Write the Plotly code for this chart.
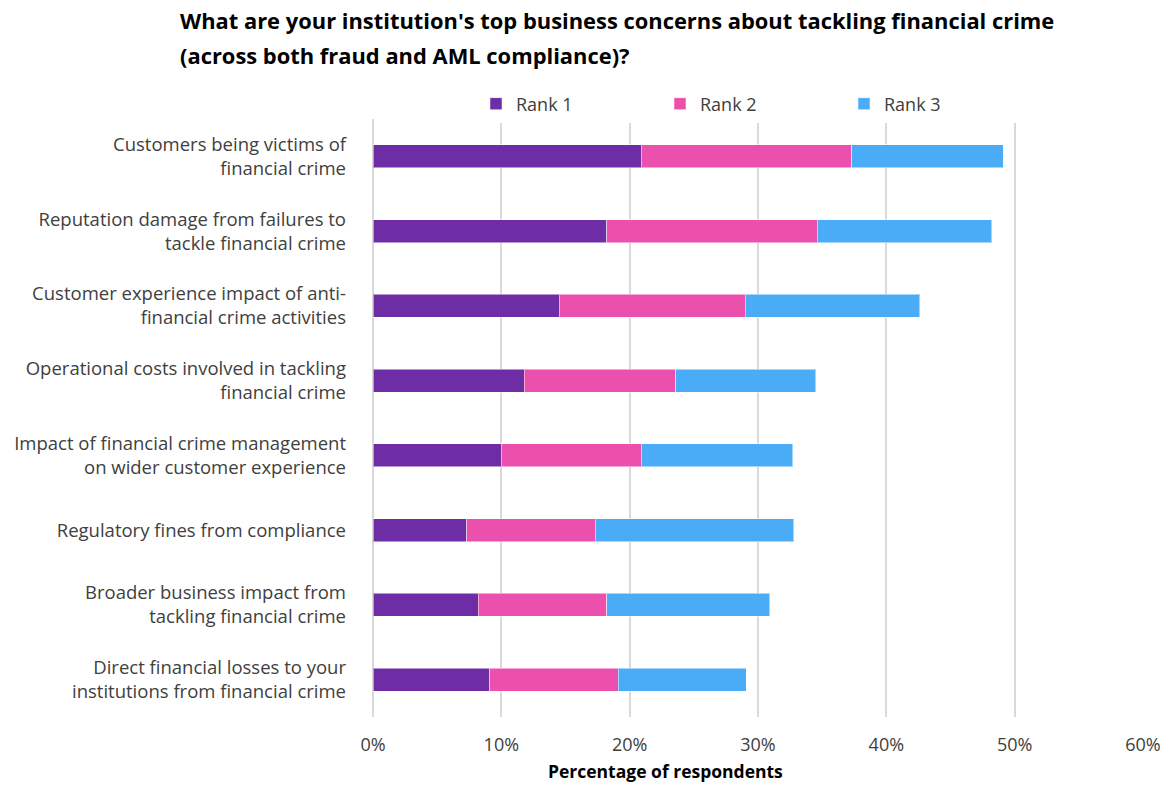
import plotly.graph_objects as go

categories = [
    "Customers being victims of<br>financial crime",
    "Reputation damage from failures to<br>tackle financial crime",
    "Customer experience impact of anti-<br>financial crime activities",
    "Operational costs involved in tackling<br>financial crime",
    "Impact of financial crime management<br>on wider customer experience",
    "Regulatory fines from compliance",
    "Broader business impact from<br>tackling financial crime",
    "Direct financial losses to your<br>institutions from financial crime",
]
rank1 = [20.9, 18.2, 14.5, 11.8, 10.0, 7.3, 8.2, 9.1]
rank2 = [16.4, 16.4, 14.5, 11.8, 10.9, 10.0, 10.0, 10.0]
rank3 = [11.8, 13.6, 13.6, 10.9, 11.8, 15.5, 12.7, 10.0]
series_names = ["Rank 1", "Rank 2", "Rank 3"]
colors = ["#6E2CA5", "#EA50AC", "#4AACF6"]
x_ticks = [0, 10, 20, 30, 40, 50, 60]
x_tick_labels = ["0%", "10%", "20%", "30%", "40%", "50%", "60%"]
title_lines = [
    "What are your institution's top business concerns about tackling financial crime",
    "(across both fraud and AML compliance)?",
]
x_title = "Percentage of respondents"

FONT = "Open Sans"
TXT = "#404040"

# plot area in pixels
L, R, T, B = 373, 26, 119, 68
W, H = 1169, 785
PW, PH = W - L - R, H - T - B

fig = go.Figure()
for name, vals, col in zip(series_names, [rank1, rank2, rank3], colors):
    fig.add_trace(go.Bar(
        y=categories, x=vals, name=name, orientation="h",
        marker=dict(color=col, line=dict(color="rgba(255,255,255,0.5)", width=1)),
    ))

annotations = [
    dict(
        text=f"<b>{line}</b>",
        xref="paper", yref="paper", x=(178 - L) / PW, y=(H - B - ypx) / PH,
        xanchor="left", yanchor="middle", align="left", showarrow=False,
        font=dict(size=21.9, color="#000000", family=FONT),
    )
    for line, ypx in zip(title_lines, [20, 55])
]
# x-axis title placed below the tick labels
annotations.append(dict(
    text=f"<b>{x_title}</b>",
    xref="paper", yref="paper", x=(665 - L) / PW, y=(H - B - 771) / PH,
    xanchor="center", yanchor="middle", showarrow=False,
    font=dict(size=17.5, color="#000000", family=FONT),
))

fig.update_layout(
    width=W, height=H,
    barmode="stack", bargap=0.69,
    plot_bgcolor="white", paper_bgcolor="white",
    margin=dict(l=L, r=R, t=T, b=B, autoexpand=False),
    font=dict(family=FONT, color=TXT, size=18),
    legend=dict(
        orientation="h", traceorder="normal",
        x=(476 - L) / PW, xanchor="left", y=(H - B - 104) / PH, yanchor="middle",
        font=dict(size=18, color=TXT), itemwidth=30,
        entrywidth=139, entrywidthmode="pixels",
    ),
    xaxis=dict(
        range=[0, 60], tickvals=x_ticks, ticktext=x_tick_labels,
        showgrid=True, gridcolor="#D9D9D9", gridwidth=2,
        zeroline=True, zerolinecolor="#D9D9D9", zerolinewidth=2,
        showline=False, ticks="", tickfont=dict(size=18, color=TXT),
        ticklabelstandoff=15, automargin=False,
        fixedrange=True,
    ),
    yaxis=dict(
        autorange="reversed", ticks="", showline=False, showgrid=False,
        tickfont=dict(size=18.5, color=TXT), ticklabelstandoff=26,
        automargin=False,
    ),
    annotations=annotations,
)

fig.write_html("out.html")
